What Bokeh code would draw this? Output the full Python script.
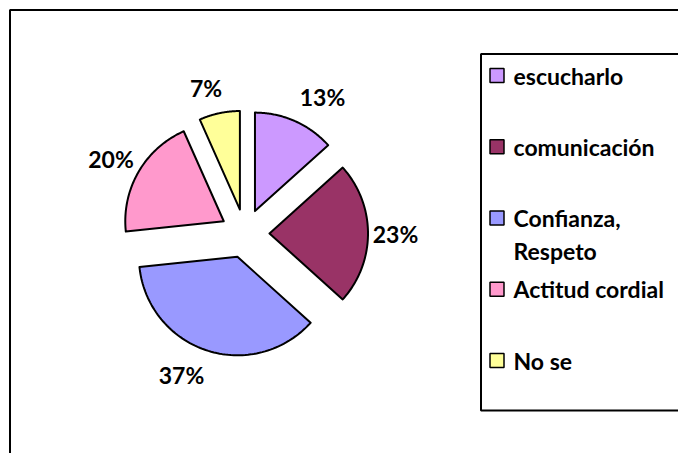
import numpy as np
from bokeh.plotting import figure
from bokeh.models import Range1d
from bokeh.core.properties import value
from bokeh.embed import file_html
from bokeh.resources import INLINE

# ---- data ----
categories = ["escucharlo", "comunicación", "Confianza, Respeto", "Actitud cordial", "No se"]
legend_labels = ["escucharlo", "comunicación", "Confianza,\nRespeto", "Actitud cordial", "No se"]
counts = [4, 7, 11, 6, 2]
colors = ["#CC99FF", "#993366", "#9999FF", "#FF99CC", "#FFFF99"]

FONT = "Lato"

W, H = 678, 453
p = figure(width=W, height=H, x_range=Range1d(0, W), y_range=Range1d(H, 0),
           output_backend="svg", toolbar_location=None, min_border=0,
           x_axis_location=None, y_axis_location=None)
p.grid.visible = False
p.outline_line_color = None
p.background_fill_color = "white"
p.border_fill_color = "white"

# ---- exploded pie ----
cx, cy, r, explode = 244.5, 233.0, 98.5, 24.5
vals = np.array(counts, dtype=float)
frac = vals / vals.sum()
ends = np.cumsum(frac) * 2 * np.pi
starts = ends - frac * 2 * np.pi
mids = (starts + ends) / 2

xs, ys, lx, ly, ltxt = [], [], [], [], []
for s, e, m, f in zip(starts, ends, mids, frac):
    ux, uy = np.sin(m), -np.cos(m)
    ox, oy = cx + explode * ux, cy + explode * uy
    t = np.linspace(s, e, 80)
    xs.append(np.concatenate([[ox], ox + r * np.sin(t), [ox]]).tolist())
    ys.append(np.concatenate([[oy], oy - r * np.cos(t), [oy]]).tolist())
    txt = f"{round(f * 100):.0f}%"
    # outside-end placement: label box just beyond the slice's outer point
    px, py = ox + r * ux, oy + r * uy
    hw = (12 * (len(txt) - 1) + 19) / 2
    lx.append(px + np.clip(3 * ux, -1, 1) * (hw + 6))
    ly.append(py + 26 * uy)
    ltxt.append(txt)

p.patches(xs, ys, fill_color=colors, line_color="black", line_width=2, line_join="round")
p.text(lx, ly, text=ltxt, text_align="center", text_baseline="middle",
       text_font=value(FONT), text_font_style="bold", text_font_size="23px", text_color="black")

# ---- outer frame (partially visible) ----
p.quad(left=9.5, right=W + 40, top=9.5, bottom=H + 40, fill_color=None,
       line_color="black", line_width=2)

# ---- legend (drawn manually) ----
p.quad(left=480.5, right=W + 40, top=53.5, bottom=410, fill_color="white",
       line_color="black", line_width=2)
n = len(categories)
sq_y = [75 + 71.25 * i for i in range(n)]
p.rect([496.5] * n, sq_y, width=14, height=14, fill_color=colors, line_color="black", line_width=1.5)
tx, ty, tt = [], [], []
for y, lab in zip(sq_y, legend_labels):
    for j, line in enumerate(lab.split("\n")):
        tx.append(513)
        ty.append(y + 32.5 * j)
        tt.append(line)
p.text(tx, ty, text=tt, text_align="left", text_baseline="middle",
       text_font=value(FONT), text_font_style="bold",
       text_font_size="23px", text_color="black")

open("out.html", "w").write(file_html(p, INLINE))
